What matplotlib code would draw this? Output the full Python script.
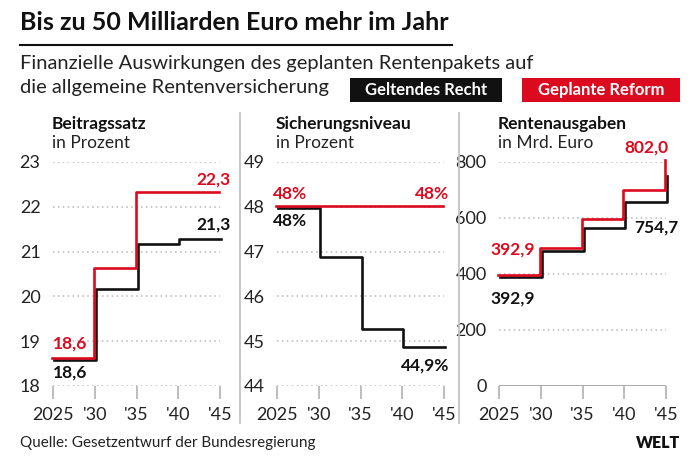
import matplotlib.pyplot as plt
import matplotlib.transforms as mtransforms
from matplotlib.patches import Rectangle
from matplotlib.lines import Line2D

# ── Data ──────────────────────────────────────────────────────────────────────
years = [2025, 2030, 2035, 2040, 2045]
year_labels = ["2025", "'30", "'35", "'40", "'45"]

beitrag_recht = [18.6, 20.2, 21.2, 21.3, 21.3]
beitrag_reform = [18.6, 20.6, 22.3, 22.3, 22.3]

niveau_recht = [48.0, 46.9, 45.3, 44.9, 44.9]
niveau_reform = [48.0, 48.0, 48.0, 48.0, 48.0]

ausgaben_recht = [392.9, 486, 570, 660, 754.7]
ausgaben_reform = [392.9, 490, 593, 695, 802.0]

RED = "#dc0a1e"
BLACK = "#111111"
TEXT = "#222222"
GRID = "#b8b8b8"

plt.rcParams["font.family"] = ["Lato", "DejaVu Sans"]

W, H = 700, 467
fig = plt.figure(figsize=(7, 4.67), dpi=100)


def px(x, y):
    """pixel position (top-left origin) -> figure fraction"""
    return x / W, 1 - y / H


# ── Header ────────────────────────────────────────────────────────────────────
fig.text(*px(20, 22), "Bis zu 50 Milliarden Euro mehr im Jahr", fontsize=18,
         fontweight="bold", va="center", ha="left", color=BLACK)
fig.add_artist(Line2D([20 / W, 452 / W], [1 - 45 / H] * 2, color=BLACK, lw=1.5))
fig.text(*px(20, 63), "Finanzielle Auswirkungen des geplanten Rentenpakets auf",
         fontsize=14.5, va="center", ha="left", color=TEXT)
fig.text(*px(20, 88), "die allgemeine Rentenversicherung",
         fontsize=14.5, va="center", ha="left", color=TEXT)

for x0, x1, col, label in [(350, 502, BLACK, "Geltendes Recht"),
                           (522, 680, RED, "Geplante Reform")]:
    fig.add_artist(Rectangle(px(x0, 102), (x1 - x0) / W, 24 / H,
                             transform=fig.transFigure, color=col, lw=0))
    fig.text(*px((x0 + x1) / 2, 90), label, fontsize=12, fontweight="bold",
             color="white", ha="center", va="center")

# separators between panels
for xs in (240, 459):
    fig.add_artist(Line2D([xs / W] * 2, [1 - 113 / H, 1 - 423 / H], color="#c4c4c4", lw=1.3))

# ── Panels ────────────────────────────────────────────────────────────────────
panels = [
    dict(left=53, title="Beitragssatz", unit="in Prozent", recht=beitrag_recht,
         reform=beitrag_reform, ylim=(18, 23), yticks=[18, 19, 20, 21, 22, 23], solid_base=False),
    dict(left=277, title="Sicherungsniveau", unit="in Prozent", recht=niveau_recht,
         reform=niveau_reform, ylim=(44, 49), yticks=[44, 45, 46, 47, 48, 49], solid_base=False),
    dict(left=499, title="Rentenausgaben", unit="in Mrd. Euro", recht=ausgaben_recht,
         reform=ausgaben_reform, ylim=(0, 800), yticks=[0, 200, 400, 600, 800], solid_base=True),
]

axes = []
for p in panels:
    l, b = px(p["left"], 386)
    ax = fig.add_axes([l, b, 167 / W, 224 / H])
    ax.set_xlim(2025, 2045)
    ax.set_ylim(*p["ylim"])
    for s in ax.spines.values():
        s.set_visible(False)
    ax.set_facecolor("none")
    for yv in p["yticks"]:
        if p["solid_base"] and yv == p["ylim"][0]:
            ax.axhline(yv, color="#a8a8a8", lw=1.4, zorder=1)
        else:
            ax.axhline(yv, color=GRID, lw=1.1, ls=(0, (1, 2.2)), zorder=1)
    ax.set_yticks(p["yticks"])
    ax.set_yticklabels([str(v) for v in p["yticks"]])
    ax.set_xticks(years)
    ax.set_xticklabels(year_labels)
    ax.tick_params(axis="y", length=0, pad=9, labelsize=13, labelcolor=TEXT)
    ax.tick_params(axis="x", length=9, width=1.4, color="#bdbdbd", pad=6,
                   labelsize=13, labelcolor=TEXT)

    # slight offset so the two overlapping lines stay visible
    tr_black = mtransforms.offset_copy(ax.transData, fig=fig, x=1, y=-1.2, units="dots")
    tr_red = mtransforms.offset_copy(ax.transData, fig=fig, x=-1, y=1.2, units="dots")
    ax.plot(years, p["recht"], drawstyle="steps-post", color=BLACK, lw=1.9,
            transform=tr_black, clip_on=False, zorder=3)
    ax.plot(years, p["reform"], drawstyle="steps-post", color=RED, lw=1.9,
            transform=tr_red, clip_on=False, zorder=4)

    # panel heading
    fig.text(*px(p["left"] - 1, 124), p["title"], fontsize=12.5, fontweight="bold",
             color=BLACK, ha="left", va="center")
    fig.text(*px(p["left"] - 1, 143), p["unit"], fontsize=12.5,
             color=TEXT, ha="left", va="center")
    axes.append(ax)


def value(ax, x, y, text, color, dx, dy, ha):
    ax.annotate(text, xy=(x, y), xytext=(dx, dy), textcoords="offset points",
                fontsize=12.5, fontweight="bold", color=color, ha=ha, va="center",
                annotation_clip=False)


ax1, ax2, ax3 = axes
value(ax1, 2045, beitrag_reform[-1], "22,3", RED, 8, 10, "right")
value(ax1, 2045, beitrag_recht[-1], "21,3", BLACK, 8, 10, "right")
value(ax1, 2025, beitrag_reform[0], "18,6", RED, 0, 11, "left")
value(ax1, 2025, beitrag_recht[0], "18,6", BLACK, 0, -10, "left")

value(ax2, 2025, niveau_reform[0], "48%", RED, -3, 9, "left")
value(ax2, 2045, niveau_reform[-1], "48%", RED, 4, 9, "right")
value(ax2, 2025, niveau_recht[0], "48%", BLACK, -3, -10, "left")
value(ax2, 2045, niveau_recht[-1], "44,9%", BLACK, 4, -14, "right")

value(ax3, 2045, ausgaben_reform[-1], "802,0", RED, 2, 10, "right")
value(ax3, 2040, ausgaben_recht[3], "754,7", BLACK, 7, -19, "left")
value(ax3, 2025, ausgaben_reform[0], "392,9", RED, -6, 19, "left")
value(ax3, 2025, ausgaben_recht[0], "392,9", BLACK, -6, -16, "left")

# ── Footer ────────────────────────────────────────────────────────────────────
fig.text(*px(20, 443), "Quelle: Gesetzentwurf der Bundesregierung", fontsize=11,
         color=TEXT, ha="left", va="center")
fig.text(*px(680, 443), "WELT", fontsize=11.5, fontweight="heavy", color=BLACK,
         ha="right", va="center")

fig.savefig("out.png", dpi=100)
